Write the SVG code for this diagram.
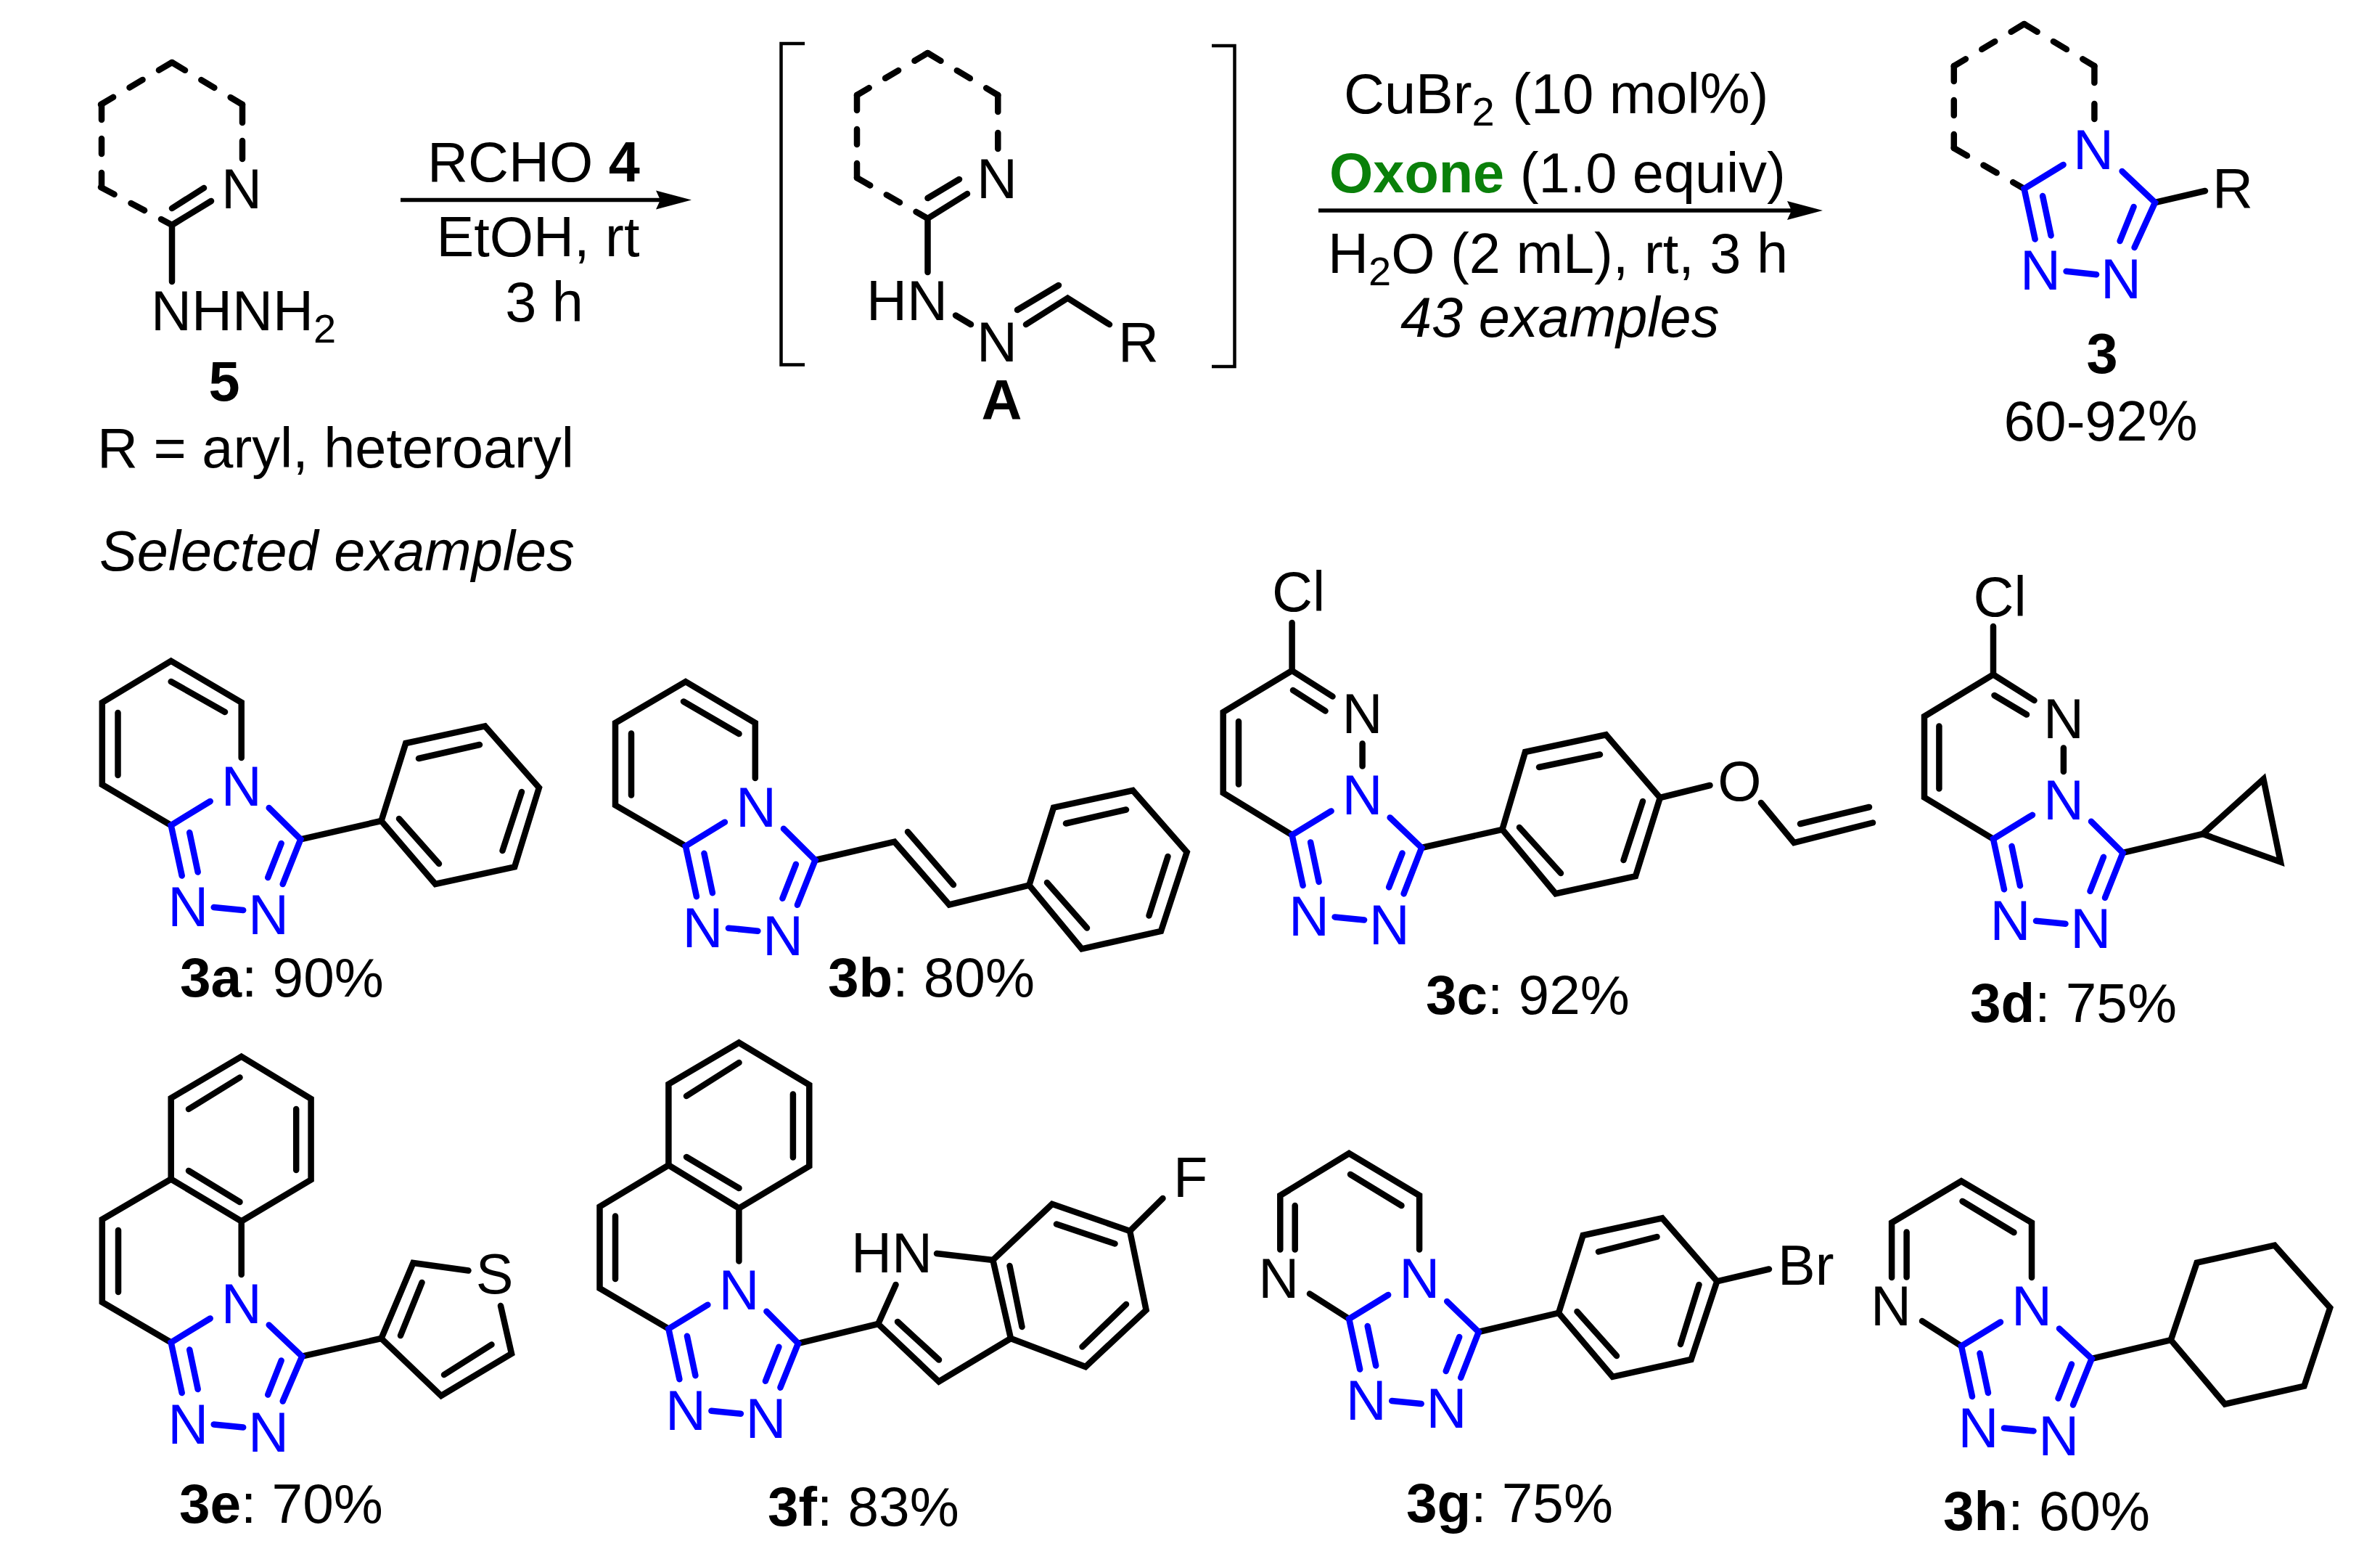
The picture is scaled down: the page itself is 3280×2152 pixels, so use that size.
<svg xmlns="http://www.w3.org/2000/svg" width="3280" height="2152" viewBox="0 0 3280 2152">
<style>
text{font-family:"Liberation Sans",Arial,sans-serif;font-size:77.5px;fill:#000}
.m{text-anchor:middle}
.bl{fill:#0000ff}
.bd{font-weight:bold}
.it{font-style:italic}
.ox{fill:#0a800a;font-weight:bold}
.s{font-size:56px}
.lb{font-size:76.5px}
path{fill:none;stroke-linecap:round;stroke-linejoin:miter;stroke-width:8.5}
.k{stroke:#000}
.u{stroke:#0000ff}
.d{stroke:#000;stroke-dasharray:21 26}
.br{stroke:#000;stroke-width:4.5;stroke-linecap:butt}
.ar{stroke:#000;stroke-width:5.5;stroke-linecap:butt}
</style>
<defs>
<marker id="head" markerUnits="userSpaceOnUse" markerWidth="50" markerHeight="26" refX="6" refY="13" orient="auto" overflow="visible"><path d="M0 0L49 13L0 26L6 13Z" style="fill:#000;stroke:none"/></marker>
</defs>
<rect width="3280" height="2152" fill="#fff"/>

<g id="connectors">
<path class="ar" d="M552 275.5H910" marker-end="url(#head)"/>
<path class="ar" d="M1817 290H2469" marker-end="url(#head)"/>
</g>

<g id="compound-5">
<path class="d" d="M237 86L139 144"/><path class="d" d="M140 144V258"/><path class="d" d="M139 258L237 310"/><path class="d" d="M237 86L334 144"/>
<path class="k" d="M334 144V169"/><path class="k" d="M334 194V219"/>
<path class="k" d="M237 388V310L291 277"/>
<path class="k" d="M237 287L281 259"/>
<text class="m" x="333" y="287">N</text>
<text x="208" y="455">NHNH<tspan class="s" dy="17">2</tspan></text>
<text class="m bd" x="309" y="552">5</text>
<text x="134" y="644">R = aryl, heteroaryl</text>
<text class="it" x="137" y="786">Selected examples</text>
</g>

<g id="reagents-1">
<text x="589" y="250">RCHO <tspan class="bd">4</tspan></text>
<text class="m" x="741.5" y="353">EtOH, rt</text>
<text class="m" x="750" y="443">3 h</text>
</g>

<g id="intermediate-A">
<path class="br" d="M1109 60H1076.5V502.5H1109"/>
<path class="br" d="M1670 63H1701.5V505H1670"/>
<path class="d" d="M1278.5 73L1181 131"/><path class="d" d="M1181 131V245"/><path class="d" d="M1181 245L1278.5 301"/><path class="d" d="M1278.5 73L1375.3 131"/>
<path class="k" d="M1375.3 131V154"/><path class="k" d="M1375.3 183V205"/>
<path class="k" d="M1278.5 375V301L1333 267"/>
<path class="k" d="M1278.5 273L1322 247"/>
<text class="m" x="1374" y="273">N</text>
<text x="1194" y="441">HN</text>
<path class="k" d="M1317 434.5L1338 447"/>
<text class="m" x="1374" y="497.5">N</text>
<path class="k" d="M1414 447L1471.4 410.7L1529 447"/>
<path class="k" d="M1402 427L1459 393"/>
<text x="1541" y="497.5">R</text>
<text class="m bd" x="1380.6" y="577.5">A</text>
</g>

<g id="reagents-2">
<text x="1852" y="155.6">CuBr<tspan class="s" dy="17">2</tspan><tspan dy="-17" dx="3"> (10 mol%)</tspan></text>
<text x="1832" y="265"><tspan class="ox">Oxone</tspan> (1.0 equiv)</text>
<text x="1830" y="376">H<tspan class="s" dy="17">2</tspan><tspan dy="-17">O (2 mL), rt, 3 h</tspan></text>
<text class="it" x="1930" y="464">43 examples</text>
</g>

<g id="compound-3">
<path class="d" d="M2789.6 33L2692.8 91"/><path class="d" d="M2692.8 91V204"/><path class="d" d="M2692.8 204L2789.6 260"/><path class="d" d="M2789.6 33L2886.4 91"/>
<path class="k" d="M2886.4 91V114"/><path class="k" d="M2886.4 143V164"/>
<path class="k" d="M2970 279L3039 263"/>
<text x="3049" y="285.7">R</text>
<g transform="translate(2789.6 260)">
<path class="u" d="M54 -33L0 0L15 69.5"/><path class="u" d="M25.5 10L37 64.5"/><path class="u" d="M135 -24L180.4 19L152 81"/><path class="u" d="M151 25L132 72"/><path class="u" d="M58 113.8L99.5 118.2"/>
<text class="m bl" x="95.5" y="-27">N</text><text class="m bl" x="22.4" y="139">N</text><text class="m bl" x="133.3" y="150.7">N</text>
</g>
<text class="m bd" x="2897" y="514">3</text>
<text class="m" x="2895" y="607">60-92%</text>
</g>

<g id="compound-3a">
<path class="k" d="M332.7 1044V967.8L235.7 910.6L140.8 967.8V1081L235.7 1137"/>
<path class="k" d="M235.7 939L310 981"/><path class="k" d="M162.5 982V1068"/>
<path class="k" d="M414.3 1156.3L525.5 1131"/>
<path class="k" d="M525.5 1131L559.2 1024L668.4 1000.4L742.9 1085.3L709.2 1194.3L600 1218Z"/>
<path class="k" d="M577 1045L661 1026"/><path class="k" d="M719 1091L692.5 1172"/><path class="k" d="M550 1128L605 1190"/>
<g transform="translate(235.7 1137)">
<path class="u" d="M54 -33L0 0L15 69.5"/><path class="u" d="M25.5 10L37 64.5"/><path class="u" d="M135 -24L178.6 19.3L154 81"/><path class="u" d="M152 25L133.5 72"/><path class="u" d="M59 113L99.5 117"/>
<text class="m bl" x="97" y="-27">N</text><text class="m bl" x="23.5" y="139">N</text><text class="m bl" x="134.2" y="150.4">N</text>
</g>
<text class="lb" x="248" y="1372.6"><tspan class="bd">3a</tspan>: 90%</text>
</g>

<g id="compound-3b">
<path class="k" d="M1040.8 1072V996L944.9 939.2L848 996V1109.4L944.9 1165.7"/>
<path class="k" d="M942 966.5L1018.5 1011"/><path class="k" d="M870 1010.5V1095.5"/>
<path class="k" d="M1123.5 1185L1232.7 1159.6L1308.2 1246.5L1418.4 1219.6"/>
<path class="k" d="M1251 1146L1314 1219"/>
<path class="k" d="M1418.4 1219.6L1452 1112.7L1561.2 1089L1635.7 1173.9L1600 1282.9L1490.8 1307.3Z"/>
<path class="k" d="M1469 1134.5L1552 1115.5"/><path class="k" d="M1609.5 1180L1583.5 1261.5"/><path class="k" d="M1443 1216L1498 1278.5"/>
<g transform="translate(944.9 1165.7)">
<path class="u" d="M54 -33L0 0L15 69.5"/><path class="u" d="M25.5 10L37 64.5"/><path class="u" d="M135 -24L178.6 19.3L154 81"/><path class="u" d="M152 25L133.5 72"/><path class="u" d="M59 113L99.5 117"/>
<text class="m bl" x="97" y="-27">N</text><text class="m bl" x="23.5" y="139">N</text><text class="m bl" x="134.2" y="150.4">N</text>
</g>
<text class="lb" x="1141" y="1372.6"><tspan class="bd">3b</tspan>: 80%</text>
</g>

<g id="compound-3c">
<path class="k" d="M1780.6 858V924L1685.7 981.2V1092.3L1780.6 1150.4"/>
<path class="k" d="M1780.6 924L1836.5 959.5"/><path class="k" d="M1782 951L1826.5 979.5"/><path class="k" d="M1707 994V1080.5"/>
<path class="k" d="M1877.6 1024.5V1055.5"/>
<text x="1753" y="842.3">Cl</text>
<text class="m" x="1877.6" y="1010.2">N</text>
<path class="k" d="M1959 1168L2070.4 1142.8"/>
<path class="k" d="M2070.4 1142.8L2102 1036L2213.3 1012.3L2287.8 1099L2254 1207.2L2143.9 1231.2Z"/>
<path class="k" d="M2121 1057L2205 1039.5"/><path class="k" d="M2264 1104L2237.5 1185"/><path class="k" d="M2094 1140L2151 1203"/>
<path class="k" d="M2287.8 1099L2356.5 1082"/>
<text class="m" x="2397.4" y="1103.2">O</text>
<path class="k" d="M2427 1106L2472.4 1161L2581 1133.5"/><path class="k" d="M2481 1135L2576 1112"/>
<g transform="translate(1780.6 1150.4)">
<path class="u" d="M54 -33L0 0L15 69.5"/><path class="u" d="M25.5 10L37 64.5"/><path class="u" d="M135 -24L178.6 17.6L154 81"/><path class="u" d="M152 25L133.5 72"/><path class="u" d="M59 113L99.5 117"/>
<text class="m bl" x="97" y="-28.2">N</text><text class="m bl" x="23.5" y="139">N</text><text class="m bl" x="134.2" y="150.4">N</text>
</g>
<text class="lb" x="1965" y="1396.6"><tspan class="bd">3c</tspan>: 92%</text>
</g>

<g id="compound-3d">
<path class="k" d="M2747 863V929.4L2652 987V1098.6L2747 1155.8"/>
<path class="k" d="M2747 929.4L2803.5 965"/><path class="k" d="M2748.5 958L2793 984.5"/><path class="k" d="M2672.4 1000.5V1086.5"/>
<path class="k" d="M2843.9 1030.5V1063"/>
<text x="2719.5" y="848.6">Cl</text>
<text class="m" x="2843.9" y="1016.5">N</text>
<path class="k" d="M2925.5 1174.8L3035.7 1149"/>
<path class="k" d="M3035.7 1149L3119.4 1073.4L3142.9 1187.4Z"/>
<g transform="translate(2747 1155.8)">
<path class="u" d="M54 -33L0 0L15 69.5"/><path class="u" d="M25.5 10L37 64.5"/><path class="u" d="M135 -24L178.6 19.3L154 81"/><path class="u" d="M152 25L133.5 72"/><path class="u" d="M59 113L99.5 117"/>
<text class="m bl" x="97" y="-27">N</text><text class="m bl" x="23.5" y="139">N</text><text class="m bl" x="134.2" y="150.4">N</text>
</g>
<text class="lb" x="2715" y="1408"><tspan class="bd">3d</tspan>: 75%</text>
</g>

<g id="compound-3e">
<path class="k" d="M332.7 1756V1682.5L235.7 1624.5L140.8 1680V1794L235.7 1849.5"/>
<path class="k" d="M235.7 1624.5V1512.9L332.7 1455.7L428.6 1513.8V1625.4L332.7 1682.5"/>
<path class="k" d="M260 1528L330.5 1484.5"/><path class="k" d="M408.2 1528V1612"/><path class="k" d="M260 1613L330.5 1656"/><path class="k" d="M163 1695V1780"/>
<path class="k" d="M416.3 1868.7L525.5 1844"/>
<path class="k" d="M645.5 1750.5L569.4 1740L525.5 1844L608 1923L705 1865L690 1799"/>
<path class="k" d="M581.5 1767L552 1840"/><path class="k" d="M677.5 1852.5L612 1894"/>
<text class="m" x="681.6" y="1781.6">S</text>
<g transform="translate(235.7 1849.5)">
<path class="u" d="M54 -33L0 0L15 69.5"/><path class="u" d="M25.5 10L37 64.5"/><path class="u" d="M135 -24L180.6 19.2L154 81"/><path class="u" d="M152 25L133.5 72"/><path class="u" d="M59 113L99.5 117"/>
<text class="m bl" x="97" y="-26.5">N</text><text class="m bl" x="23.5" y="139">N</text><text class="m bl" x="134.2" y="150.4">N</text>
</g>
<text class="lb" x="247" y="2097.7"><tspan class="bd">3e</tspan>: 70%</text>
</g>

<g id="compound-3f">
<path class="k" d="M1018.4 1737.5V1664.6L921.4 1605.3L826.5 1662.4V1775L921.4 1830.7"/>
<path class="k" d="M921.4 1605.3V1493.7L1018.4 1436.5L1115.3 1494.6V1606.6L1018.4 1664.6"/>
<path class="k" d="M946 1510L1018.5 1464"/><path class="k" d="M1092.9 1507.5V1594.5"/><path class="k" d="M946 1594L1018.5 1637"/><path class="k" d="M848 1675.5V1762"/>
<path class="k" d="M1100 1850.8L1210.2 1824"/>
<path class="k" d="M1234.5 1770L1210.2 1824L1293.9 1903.5L1393 1844"/>
<path class="k" d="M1237 1821L1294 1873.5"/>
<text x="1173" y="1752.6">HN</text>
<path class="k" d="M1291 1727L1368.4 1736"/>
<path class="k" d="M1393 1844L1368.4 1736L1450 1658.8L1557.1 1695.9L1579.6 1804.8L1496 1883Z"/>
<path class="k" d="M1408.5 1828L1391.5 1744"/><path class="k" d="M1456 1686.5L1536.5 1713.5"/><path class="k" d="M1552 1797L1491.5 1855.5"/>
<path class="k" d="M1557.1 1695.9L1602.5 1651"/>
<text x="1617" y="1649">F</text>
<g transform="translate(921.4 1830.7)">
<path class="u" d="M54 -33L0 0L15 69.5"/><path class="u" d="M25.5 10L37 64.5"/><path class="u" d="M135 -24L178.6 20L154 81"/><path class="u" d="M152 25L133.5 72"/><path class="u" d="M59 113L99.5 117"/>
<text class="m bl" x="97" y="-26.7">N</text><text class="m bl" x="23.5" y="139">N</text><text class="m bl" x="134.2" y="150.4">N</text>
</g>
<text class="lb" x="1058" y="2101.7"><tspan class="bd">3f</tspan>: 83%</text>
</g>

<g id="compound-3g">
<path class="k" d="M1956.1 1721.5V1647L1859.2 1589L1764.3 1647V1721.5"/>
<path class="k" d="M1784.7 1661V1721.5"/><path class="k" d="M1861 1618L1931.5 1661"/>
<text class="m" x="1762.2" y="1788">N</text>
<path class="k" d="M1805 1782.5L1859.2 1817"/>
<path class="k" d="M2037.8 1835L2148 1808.9"/>
<path class="k" d="M2148 1808.9L2181.6 1702L2290.8 1678.3L2366.3 1765.3L2330.6 1873L2222.4 1896.8Z"/>
<path class="k" d="M2203 1724.5L2283.5 1704"/><path class="k" d="M2341.5 1770L2316 1852"/><path class="k" d="M2173.5 1807L2228 1868"/>
<path class="k" d="M2366.3 1765.3L2438 1748.5"/>
<text x="2450" y="1770.3">Br</text>
<g transform="translate(1859.2 1817)">
<path class="u" d="M54 -33L0 0L15 69.5"/><path class="u" d="M25.5 10L37 64.5"/><path class="u" d="M135 -24L178.6 18L154 81"/><path class="u" d="M152 25L133.5 72"/><path class="u" d="M59 113L99.5 117"/>
<text class="m bl" x="97" y="-29">N</text><text class="m bl" x="23.5" y="139">N</text><text class="m bl" x="134.2" y="150.4">N</text>
</g>
<text class="lb" x="1938" y="2097"><tspan class="bd">3g</tspan>: 75%</text>
</g>

<g id="compound-3h">
<path class="k" d="M2800 1760V1684.5L2703 1627.3L2607.1 1684.5V1760"/>
<path class="k" d="M2627.6 1697.5V1759.5"/><path class="k" d="M2704.5 1655L2775.5 1698"/>
<text class="m" x="2606" y="1826.3">N</text>
<path class="k" d="M2649 1820L2703 1854.5"/>
<path class="k" d="M2882.7 1871.9L2991.8 1846.2"/>
<path class="k" d="M2991.8 1846.2L3027.6 1739.6L3134.7 1715.6L3211.2 1801.8L3175.5 1909.6L3066.3 1934.5Z"/>
<g transform="translate(2703 1854.5)">
<path class="u" d="M54 -33L0 0L15 69.5"/><path class="u" d="M25.5 10L37 64.5"/><path class="u" d="M135 -24L179.7 17.4L154 81"/><path class="u" d="M152 25L133.5 72"/><path class="u" d="M59 113L99.5 117"/>
<text class="m bl" x="97" y="-28.2">N</text><text class="m bl" x="23.5" y="139">N</text><text class="m bl" x="134.2" y="150.4">N</text>
</g>
<text class="lb" x="2678" y="2108"><tspan class="bd">3h</tspan>: 60%</text>
</g>
</svg>
